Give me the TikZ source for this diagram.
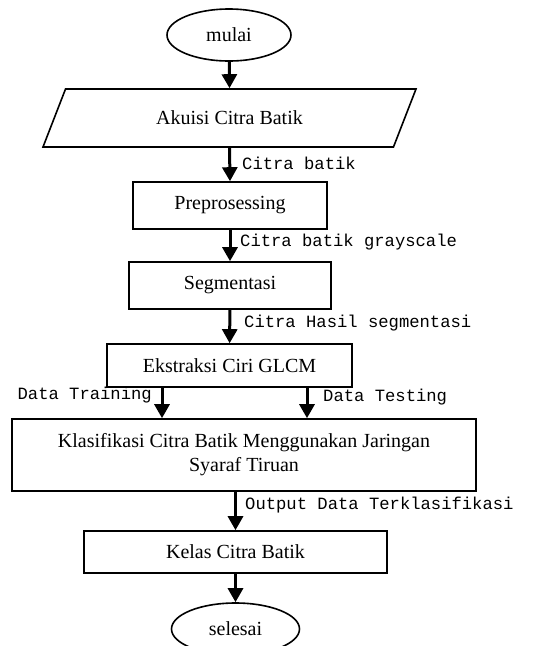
\documentclass[tikz,border=0pt]{standalone}
\usepackage{fontspec}
\setmainfont{Liberation Serif}
\setmonofont{Liberation Mono}
\usetikzlibrary{shapes.geometric,arrows.meta}

\begin{document}
\begin{tikzpicture}[x=1pt, y=-1pt,
        proc/.style={rectangle, draw=black, line width=1.6pt, font=\fontsize{20}{24}\selectfont, align=center, inner sep=0pt},
        term/.style={ellipse, draw=black, line width=1.6pt, font=\fontsize{20}{24}\selectfont, inner sep=0pt, minimum height=52pt},
        io/.style={trapezium, trapezium left angle=32, trapezium right angle=148, trapezium stretches body, draw=black, line width=1.6pt, font=\fontsize{20}{24}\selectfont, inner sep=0pt},
        lbl/.style={anchor=west, font=\fontsize{17.2}{20}\ttfamily, inner sep=0pt},
        flow/.style={-{Triangle[width=15pt,length=14pt]}, line width=3pt}
    ]
        \useasboundingbox (0,0) rectangle (559,646);

        % Nodes
        \node[term, minimum width=124pt] (mulai) at (229, 35) {mulai};
        \node[io, minimum width=373pt, minimum height=58pt] (akuisi) at (229.5, 118) {Akuisi Citra Batik};
        \node[proc, minimum width=194pt, minimum height=47pt] (prep) at (230, 205.5) {Preprosessing};
        \node[proc, minimum width=202pt, minimum height=47pt] (seg) at (230, 285.5) {Segmentasi};
        \node[proc, minimum width=245pt, minimum height=43pt] (glcm) at (229.5, 365.5) {Ekstraksi Ciri GLCM};
        \node[proc, minimum width=464pt, minimum height=72pt] (jst) at (244, 455) {Klasifikasi Citra Batik Menggunakan Jaringan\\Syaraf Tiruan};
        \node[proc, minimum width=303pt, minimum height=42pt] (kelas) at (235.5, 552) {Kelas Citra Batik};
        \node[term, minimum width=128pt] (selesai) at (235.5, 629) {selesai};

        \coordinate (train) at (162, 0);
        \coordinate (test) at (307, 0);

        % Labels
        \node[lbl] (lcitra) at (242, 163) {Citra batik};
        \node[lbl] (lgray) at (240, 242) {Citra batik grayscale};
        \node[lbl] (lhasil) at (244, 323) {Citra Hasil segmentasi};
        \node[lbl, anchor=east] (ltrain) at (152, 395) {Data Training};
        \node[lbl] (ltest) at (323, 397) {Data Testing};
        \node[lbl] (lout) at (245, 505) {Output Data Terklasifikasi};

        % Edges
        \draw[flow] (mulai) -- (akuisi.north);
        \draw[flow] (akuisi.south) -- (prep.north);
        \draw[flow] (prep) -- (seg);
        \draw[flow] (seg) -- (glcm);
        \draw[flow] (train |- glcm.south) -- (train |- jst.north);
        \draw[flow] (test |- glcm.south) -- (test |- jst.north);
        \draw[flow] (kelas.north |- jst.south) -- (kelas.north);
        \draw[flow] (kelas) -- (selesai);

    \end{tikzpicture}
\end{document}
